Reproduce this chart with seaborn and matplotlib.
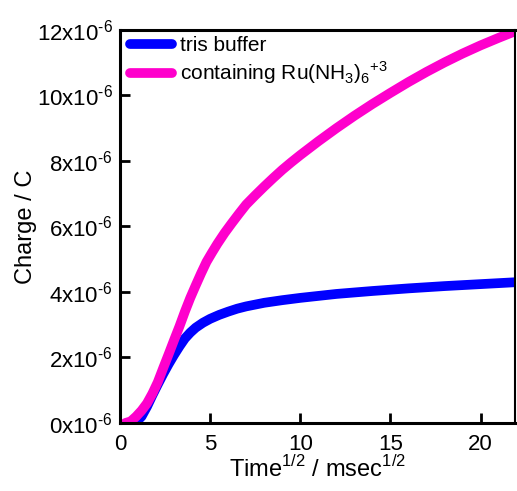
import numpy as np
import pandas as pd
import matplotlib
matplotlib.use("Agg")
import matplotlib.pyplot as plt
import seaborn as sns

# Time^(1/2) in msec^(1/2), charge in units of 1e-6 C
t_pink = [0.3, 0.6, 0.9, 1.2, 1.5, 1.8, 2.1, 2.4, 2.7, 3.0, 3.3, 3.6, 3.9, 4.2, 4.5,
          4.8, 5.1, 5.4, 5.8, 6.2, 6.6, 7.0, 7.5, 8.0, 8.5, 9.0, 9.5, 10.0, 11.0,
          12.0, 13.0, 14.0, 15.0, 16.0, 17.0, 18.0, 19.0, 20.0, 21.0, 22.0]
q_pink = [0.0, 0.05, 0.2, 0.38, 0.6, 0.9, 1.25, 1.68, 2.1, 2.53, 2.95, 3.4, 3.82, 4.2, 4.57,
          4.92, 5.2, 5.47, 5.8, 6.1, 6.39, 6.67, 6.95, 7.22, 7.48, 7.73, 7.96, 8.18, 8.6,
          9.0, 9.38, 9.74, 10.08, 10.41, 10.72, 11.01, 11.28, 11.53, 11.76, 11.98]

t_blue = [0.6, 0.9, 1.2, 1.5, 1.8, 2.1, 2.4, 2.7, 3.0, 3.3, 3.6, 3.9, 4.2, 4.6, 5.0,
          5.5, 6.0, 6.5, 7.0, 8.0, 9.0, 10.0, 12.0, 14.0, 16.0, 18.0, 20.0, 22.0]
q_blue = [0.0, 0.03, 0.2, 0.5, 0.85, 1.18, 1.5, 1.8, 2.08, 2.34, 2.58, 2.76, 2.91, 3.06, 3.18,
          3.3, 3.4, 3.49, 3.56, 3.67, 3.75, 3.82, 3.94, 4.03, 4.11, 4.18, 4.24, 4.3]

LABEL_BLUE = "tris buffer"
LABEL_PINK = r"containing Ru(NH$_{\mathregular{3}}$)$_{\mathregular{6}}$$^{\mathregular{+3}}$"

x_ticks = [0, 5, 10, 15, 20]
y_ticks = [0, 2, 4, 6, 8, 10, 12]

sns.set_style("ticks")
plt.rcParams["font.family"] = ["Liberation Sans", "DejaVu Sans"]
plt.rcParams["mathtext.fontset"] = "custom"
plt.rcParams["mathtext.rm"] = "Liberation Sans"
plt.rcParams["axes.unicode_minus"] = False
plt.rcParams["text.color"] = "black"
plt.rcParams["axes.labelcolor"] = "black"
plt.rcParams["xtick.color"] = "black"
plt.rcParams["ytick.color"] = "black"
plt.rcParams["axes.edgecolor"] = "black"

df = pd.concat([
    pd.DataFrame({"t": t_blue, "q": np.array(q_blue) * 1e-6, "series": LABEL_BLUE}),
    pd.DataFrame({"t": t_pink, "q": np.array(q_pink) * 1e-6, "series": LABEL_PINK}),
], ignore_index=True)

fig = plt.figure(figsize=(5.17, 4.91), dpi=100)
ax = fig.add_axes([0.232, 0.1385, 0.764, 0.8005])

sns.lineplot(data=df, x="t", y="q", hue="series", sort=False,
             palette={LABEL_BLUE: "#0000ff", LABEL_PINK: "#ff00cc"},
             linewidth=7, ax=ax, solid_capstyle="round", solid_joinstyle="round")

ax.set_xlim(0, 21.9)
ax.set_ylim(0, 12e-6)
ax.set_xticks(x_ticks)
ax.set_xticklabels([str(v) for v in x_ticks])
ax.set_yticks([v * 1e-6 for v in y_ticks])
ax.set_yticklabels([rf"{v}x10$^{{\text{{-6}}}}$" for v in y_ticks])
ax.tick_params(direction="in", length=7, width=2, labelsize=16, pad=5,
               top=False, right=False)
ax.tick_params(axis="x", pad=8)
for side in ["left", "bottom", "top"]:
    ax.spines[side].set_linewidth(2.2)
ax.spines["right"].set_linewidth(1.5)

ax.set_xlabel(r"Time$^{\mathregular{1/2}}$ / msec$^{\mathregular{1/2}}$", fontsize=17, labelpad=1)
ax.set_ylabel("Charge / C", fontsize=17, labelpad=0)

leg = ax.legend(loc="upper left", frameon=False, fontsize=15, handlelength=2.0,
                handletextpad=0.4, borderaxespad=0.0, labelspacing=0.2,
                bbox_to_anchor=(0.005, 1.005))
for line in leg.get_lines():
    line.set_linewidth(7)
    line.set_solid_capstyle("round")

fig.savefig("out.png", dpi=100)
